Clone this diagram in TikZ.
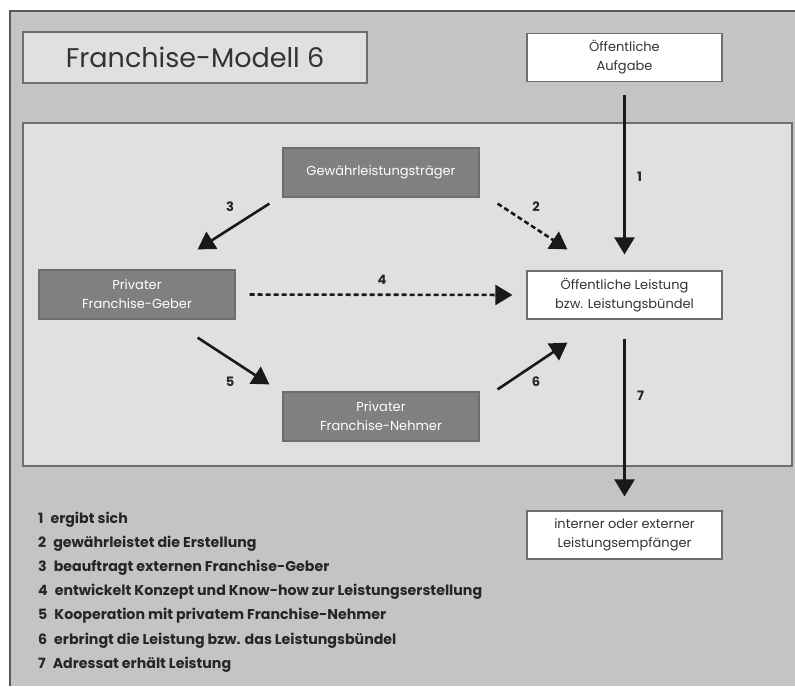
\documentclass[tikz,border=0pt]{standalone}
\usepackage{fontspec}
\setmainfont{Poppins}
\usepackage{tikz}
\usetikzlibrary{arrows.meta, calc}

\definecolor{framegray}{HTML}{C4C4C4}
\definecolor{panelgray}{HTML}{E0E0DF}
\definecolor{actorgray}{HTML}{808080}
\definecolor{edgegray}{HTML}{6E6E6E}

\begin{document}
\begin{tikzpicture}[
    x=1pt, y=-1pt,
    % Styles
    titlebox/.style={
        draw=edgegray, fill=panelgray, line width=1.2pt,
        minimum width=344pt, minimum height=51pt,
        font=\fontsize{27}{30}\selectfont, text=black!80
    },
    whitebox/.style={
        draw=edgegray, fill=white, line width=1.2pt, align=center,
        minimum width=195pt, minimum height=48pt,
        font=\fontsize{13}{19}\selectfont, text=black!80
    },
    actor/.style={
        draw=edgegray, fill=actorgray, line width=1.2pt, align=center,
        minimum width=196pt, minimum height=49pt,
        font=\fontsize{13}{19}\selectfont, text=white
    },
    flow/.style={line width=2.6pt, black!90,
        -{Triangle[length=17pt, width=20pt]}},
    dashflow/.style={flow, dash pattern=on 5pt off 3pt},
    num/.style={font=\bfseries\fontsize{13}{15}\selectfont, text=black!85},
    legend/.style={anchor=base west, inner sep=0pt,
        font=\bfseries\fontsize{14.2}{16}\selectfont, text=black!85}
]

    \useasboundingbox (0,0) rectangle (795,686);

    % --- Background frames ---
    \fill[white] (0,0) rectangle (795,686);
    \fill[framegray] (10,11) rectangle (795,686);
    \draw[edgegray!80!black, line width=1.2pt] (10,686) |- (795,11);
    \draw[edgegray, fill=panelgray, line width=1.4pt] (23,123) rectangle (792,466);

    % --- Nodes ---
    \node[titlebox] (title) at (195,57.5) {Franchise-Modell 6};
    \node[whitebox] (aufgabe) at (624.5,57.5) {Öffentliche\\Aufgabe};

    \node[actor] (traeger) at (381,172.5) {Gewährleistungsträger};
    \node[actor] (geber) at (137,294.5) {Privater\\Franchise-Geber};
    \node[actor] (nehmer) at (381,416.5) {Privater\\Franchise-Nehmer};

    \node[whitebox] (leistung) at (624.5,295) {Öffentliche Leistung\\bzw. Leistungsbündel};
    \node[whitebox] (empfaenger) at (624.5,535) {interner oder externer\\Leistungsempfänger};

    % --- Connections ---
    \draw[flow, shorten <=13pt, shorten >=16pt] (aufgabe.south) -- node[num, right=8pt] {1} (leistung.north);
    \draw[dashflow] ($(traeger.south east)+(18,6)$) -- ($(leistung.north west)+(41,-21)$);
    \draw[flow] ($(traeger.south west)+(-13,6)$) -- ($(geber.north east)+(-38,-20)$);
    \draw[dashflow, shorten <=14pt, shorten >=14pt] (geber.east) -- (leistung.west);
    \draw[flow] ($(geber.south east)+(-38,18)$) -- ($(nehmer.north west)+(-13,-7)$);
    \draw[flow] ($(nehmer.north east)+(18,-2)$) -- ($(leistung.south west)+(41,23)$);
    \draw[flow, shorten <=19pt, shorten >=14pt] (leistung.south) -- node[num, right=8pt, pos=0.4] {7} (empfaenger.north);

    % arrow numbers
    \node[num] (n2) at (536,207) {2};
    \node[num] (n3) at (230,207) {3};
    \node[num] (n4) at (382,280) {4};
    \node[num] (n5) at (230,382) {5};
    \node[num] (n6) at (536,382) {6};

    % --- Legend ---
    \foreach \i/\txt in {
        1/ergibt sich,
        2/gewährleistet die Erstellung,
        3/beauftragt externen Franchise-Geber,
        4/entwickelt Konzept und Know-how zur Leistungserstellung,
        5/Kooperation mit privatem Franchise-Nehmer,
        6/erbringt die Leistung bzw. das Leistungsbündel,
        7/Adressat erhält Leistung}
    {
        \node[legend] (leg\i) at (38, {523+(\i-1)*24.2}) {\i\hspace{7pt}\txt};
    }

\end{tikzpicture}
\end{document}
